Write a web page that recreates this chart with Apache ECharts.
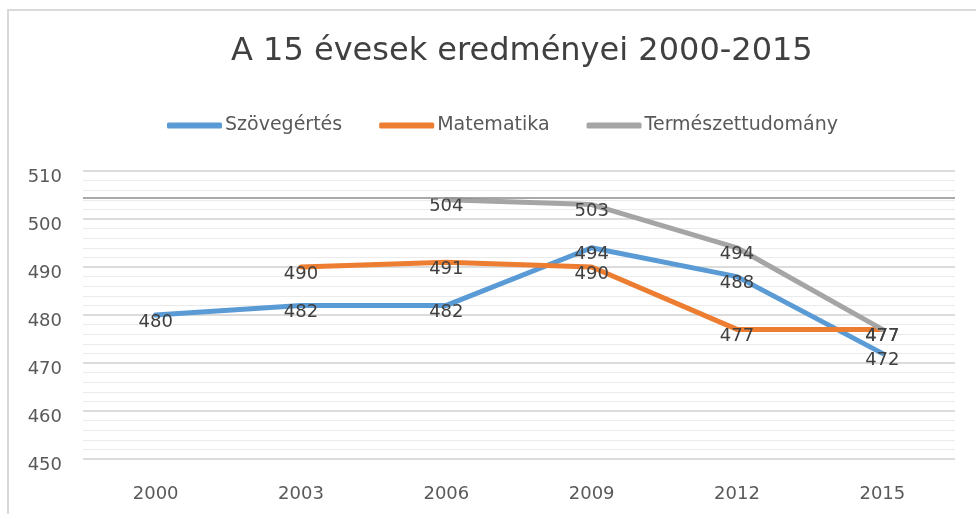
<!DOCTYPE html>
<html>
<head>
<meta charset="utf-8">
<script src="https://cdn.jsdelivr.net/npm/echarts@6/dist/echarts.min.js"></script>
<style>
  html, body { margin: 0; padding: 0; background: #fff; }
  #chart { width: 976px; height: 514px; }
</style>
</head>
<body>
<div id="chart"></div>
<script>
// adatok
var years = ['2000', '2003', '2006', '2009', '2012', '2015'];
var szovegertes = [480, 482, 482, 494, 488, 472];
var matematika = [null, 490, 491, 490, 477, 477];
var termeszet = [null, null, 504, 503, 494, 477];
var yTicks = { min: 450, max: 510, step: 10 };

var myChart = echarts.init(document.getElementById('chart'));
var font = 'DejaVu Sans';

function lineSeries(name, data, color) {
  return {
    name: name,
    type: 'line',
    data: data,
    symbol: 'circle',
    symbolSize: 0,
    lineStyle: { color: color, width: 5, cap: 'round', join: 'round' },
    itemStyle: { color: color },
    label: {
      show: true,
      position: 'inside',
      offset: [0, 7],
      color: '#404040',
      fontSize: 18,
      fontFamily: font
    }
  };
}

var series = [
  lineSeries('Szövegértés', szovegertes, '#5B9BD5'),
  lineSeries('Matematika', matematika, '#ED7D31'),
  lineSeries('Természettudomány', termeszet, '#A5A5A5')
];
// a kivágásból maradt vízszintes vonal
series[0].markLine = {
  silent: true,
  symbol: 'none',
  label: { show: false },
  lineStyle: { color: '#8c8c8c', width: 1.5, type: 'solid' },
  data: [{ yAxis: 504.4 }]
};

var option = {
  backgroundColor: '#fff',
  animation: false,
  title: {
    text: 'A 15 évesek eredményei 2000-2015',
    left: 226,
    top: 31,
    textStyle: { color: '#404040', fontSize: 32, fontWeight: 'normal', fontFamily: font }
  },
  legend: {
    top: 111,
    left: 162,
    icon: 'roundRect',
    itemWidth: 55,
    itemHeight: 6,
    itemGap: 37,
    textStyle: { color: '#595959', fontSize: 19, fontFamily: font, padding: [0, 0, 0, -2] },
    data: ['Szövegértés', 'Matematika', 'Természettudomány']
  },
  grid: { left: 83, right: 21, top: 171, bottom: 55 },
  xAxis: {
    type: 'category',
    data: years,
    boundaryGap: true,
    axisLine: { show: false },
    axisTick: { show: false },
    axisLabel: { color: '#595959', fontSize: 18, fontFamily: font, margin: 26 }
  },
  yAxis: {
    type: 'value',
    min: yTicks.min,
    max: yTicks.max,
    interval: yTicks.step,
    axisLine: { show: false },
    axisTick: { show: false },
    axisLabel: { color: '#595959', fontSize: 18, fontFamily: font, margin: 21, verticalAlign: 'top', padding: [-3, 0, 0, 0] },
    splitLine: { lineStyle: { color: '#d0d0d0', width: 1.5 } },
    minorTick: { show: false, splitNumber: 5 },
    minorSplitLine: { show: true, lineStyle: { color: '#ebebeb', width: 1 } }
  },
  graphic: [
    { type: 'line', shape: { x1: 8, y1: 10, x2: 8, y2: 514 }, style: { stroke: '#d9d9d9', lineWidth: 2 } },
    { type: 'line', shape: { x1: 7, y1: 10, x2: 976, y2: 10 }, style: { stroke: '#d9d9d9', lineWidth: 2 } }
  ],
  series: series
};
myChart.setOption(option);
</script>
</body>
</html>
